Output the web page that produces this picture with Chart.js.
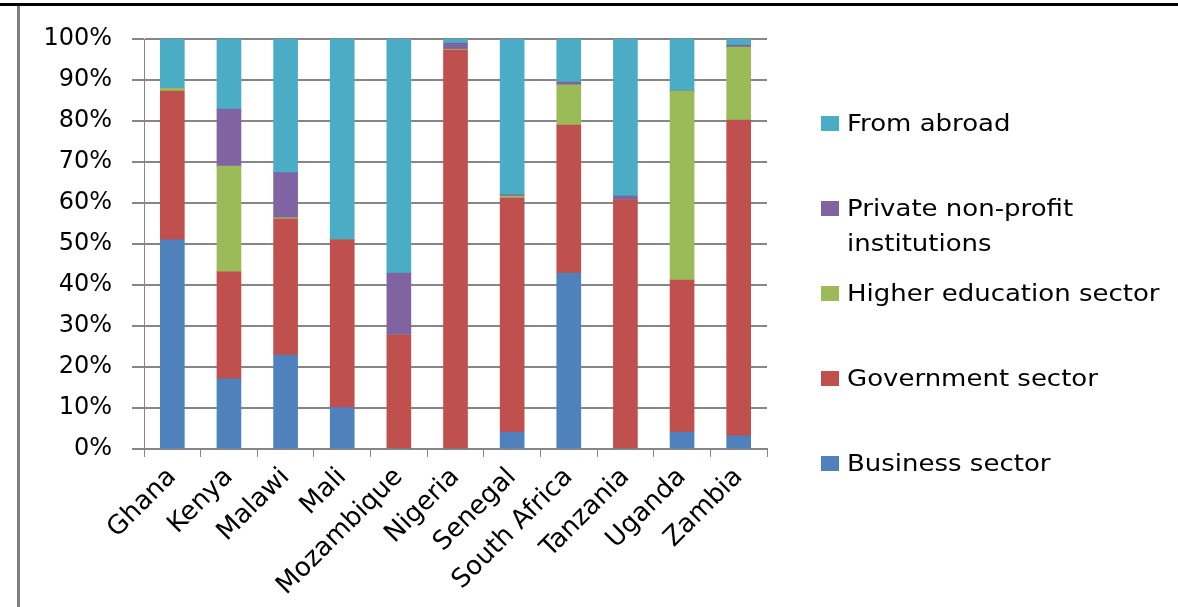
<!DOCTYPE html>
<html>
<head>
<meta charset="utf-8">
<script src="https://cdn.jsdelivr.net/npm/chart.js@4"></script>
<style>
  html, body { margin: 0; padding: 0; background: #fff; }
  #wrap { position: relative; width: 1178px; height: 607px; overflow: hidden; }
  #chart { position: absolute; left: 0; top: 0; }
  .topline { position: absolute; left: 0; top: 3px; width: 1178px; height: 3px; background: #000; }
  .leftline { position: absolute; left: 17px; top: 6px; width: 3px; height: 601px; background: #808080; }
  #legend { position: absolute; left: 821px; top: 106px; font-family: "DejaVu Sans", sans-serif; font-size: 23px; color: #000; }
  .item { position: relative; height: 85px; }
  .box { position: absolute; left: 0; top: 10px; width: 18px; height: 15px; }
  .txt { position: absolute; left: 26px; top: 0; line-height: 35px; white-space: nowrap; transform: scaleX(1.13); transform-origin: left top; }
</style>
</head>
<body>
<div id="wrap">
  <div class="topline"></div>
  <div class="leftline"></div>
  <canvas id="chart" width="1178" height="607"></canvas>
  <div id="legend"></div>
</div>
<script>
const countries = ['Ghana', 'Kenya', 'Malawi', 'Mali', 'Mozambique', 'Nigeria', 'Senegal', 'South Africa', 'Tanzania', 'Uganda', 'Zambia'];
const business = [51, 17.1, 22.9, 10.1, 0, 0, 4.1, 42.9, 0, 4.1, 3.2];
const government = [36.3, 26.1, 33.2, 40.9, 27.8, 97.3, 57.1, 36.1, 60.7, 37.1, 77];
const higherEd = [0.7, 25.8, 0.3, 0, 0, 0.2, 0.5, 9.8, 0, 46.1, 17.8];
const privateNonProfit = [0, 13.9, 11, 0, 15.1, 1.5, 0.3, 0.7, 1.0, 0, 0.5];
const fromAbroad = [12, 17.1, 32.6, 49, 57.1, 1, 38, 10.5, 38.3, 12.7, 1.5];
const yTicks = [0, 10, 20, 30, 40, 50, 60, 70, 80, 90, 100];

const seriesNames = ['Business sector', 'Government sector', 'Higher education sector', 'Private non-profit\ninstitutions', 'From abroad'];
const seriesColors = ['#4F81BD', '#C0504D', '#9BBB59', '#8064A2', '#4BACC6'];
const seriesData = [business, government, higherEd, privateNonProfit, fromAbroad];

const datasets = seriesData.map((d, i) => {
  return {
    label: seriesNames[i].replace('\n', ' '),
    data: d,
    backgroundColor: seriesColors[i],
    borderWidth: 0,
    barThickness: 24,
  };
});

// legend, top to bottom is reverse of stacking
const legend = document.getElementById('legend');
for (let i = seriesNames.length - 1; i >= 0; i--) {
  const item = document.createElement('div');
  item.className = 'item';
  const box = document.createElement('div');
  box.className = 'box';
  box.style.background = seriesColors[i];
  const txt = document.createElement('div');
  txt.className = 'txt';
  txt.innerHTML = seriesNames[i].replace('\n', '<br>');
  item.appendChild(box);
  item.appendChild(txt);
  legend.appendChild(item);
}

const ctx = document.getElementById('chart').getContext('2d');
new Chart(ctx, {
  type: 'bar',
  data: { labels: countries, datasets: datasets },
  options: {
    responsive: false,
    animation: false,
    layout: { padding: { left: 0, top: 39, right: 411, bottom: 0 } },
    plugins: { legend: { display: false }, tooltip: { enabled: false } },
    scales: {
      x: {
        stacked: true,
        grid: { display: true, drawOnChartArea: false, tickLength: 8, color: '#868686', lineWidth: 1 },
        border: { color: '#868686', width: 2 },
        ticks: {
          color: '#000',
          font: { family: 'DejaVu Sans', size: 26 },
          minRotation: 45,
          maxRotation: 45,
          autoSkip: false,
          padding: 5,
        },
        afterFit: (scale) => { scale.height = 158; },
      },
      y: {
        stacked: true,
        min: 0,
        max: 100,
        afterBuildTicks: (scale) => { scale.ticks = yTicks.map((v) => ({ value: v })); },
        grid: { color: '#868686', lineWidth: 2, tickLength: 12 },
        border: { color: '#868686', width: 1 },
        ticks: {
          color: '#000',
          font: { family: 'DejaVu Sans', size: 24 },
          padding: 20,
          callback: (v) => v + '%',
        },
        afterFit: (scale) => { scale.width = 144; },
      },
    },
  },
});
</script>
</body>
</html>
